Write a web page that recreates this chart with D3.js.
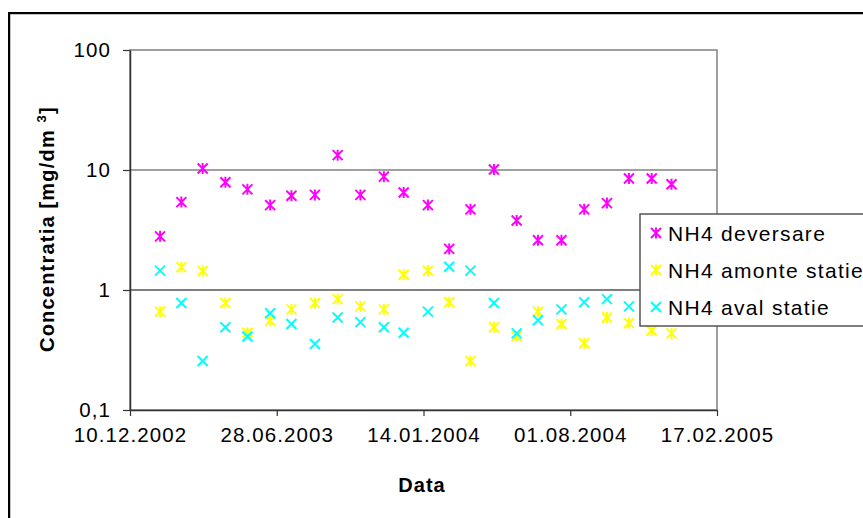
<!DOCTYPE html>
<html>
<head>
<meta charset="utf-8">
<script src="https://cdn.jsdelivr.net/npm/d3@7"></script>
<style>
  html, body { margin: 0; padding: 0; background: #fff; }
  svg { display: block; font-family: "Liberation Sans", Arial, sans-serif; }
</style>
</head>
<body>
<svg id="chart" width="863" height="518"></svg>
<script>
// Monthly NH4 samples
const sampleDates = ["2003-01-20","2003-02-18","2003-03-19","2003-04-19","2003-05-19","2003-06-19",
  "2003-07-18","2003-08-19","2003-09-19","2003-10-20","2003-11-21","2003-12-18",
  "2004-01-20","2004-02-18","2004-03-18","2004-04-19","2004-05-20","2004-06-18",
  "2004-07-20","2004-08-20","2004-09-20","2004-10-20","2004-11-20","2004-12-17"];
const deversare = [2.8,5.4,10.3,7.9,6.9,5.1,6.1,6.2,13.3,6.2,8.8,6.5,5.1,2.2,4.7,10.1,3.8,2.6,2.6,4.7,5.3,8.5,8.5,7.6];
const amonte    = [0.66,1.55,1.44,0.78,0.44,0.555,0.69,0.78,0.84,0.73,0.69,1.34,1.45,0.79,0.256,0.49,0.41,0.66,0.52,0.36,0.59,0.53,0.46,0.435];
const aval      = [1.45,0.78,0.256,0.49,0.41,0.64,0.52,0.355,0.59,0.54,0.49,0.44,0.66,1.56,1.45,0.78,0.435,0.56,0.69,0.79,0.84,0.73,0.75,0.7];

const seriesNames = ["NH4 deversare", "NH4 amonte statie", "NH4 aval statie"];
const xTickDates = ["2002-12-10","2003-06-28","2004-01-14","2004-08-01","2005-02-17"];
const yTickValues = [0.1, 1, 10, 100];
const yTickLabels = ["0,1", "1", "10", "100"];

const parse = d3.timeParse("%Y-%m-%d");
const svg = d3.select("#chart");

const plot = { left: 130, right: 717, top: 50, bottom: 410 };
const x = d3.scaleTime()
  .domain([parse(xTickDates[0]), parse(xTickDates[xTickDates.length - 1])])
  .range([plot.left, plot.right]);
const y = d3.scaleLog().domain([0.1, 100]).range([plot.bottom, plot.top]);

// outer chart frame
svg.append("rect").attr("x", 10).attr("y", 14).attr("width", 900).attr("height", 600)
  .attr("fill", "none").attr("stroke", "#888").attr("stroke-width", 1);
svg.append("rect").attr("x", 9).attr("y", 13).attr("width", 900).attr("height", 600)
  .attr("fill", "none").attr("stroke", "#000").attr("stroke-width", 2);

// plot area frame and gridlines
svg.append("rect").attr("x", plot.left).attr("y", plot.top)
  .attr("width", plot.right - plot.left).attr("height", plot.bottom - plot.top)
  .attr("fill", "none").attr("stroke", "#808080").attr("stroke-width", 1.5);
svg.append("line").attr("x1", plot.left).attr("x2", plot.right)
  .attr("y1", y(10)).attr("y2", y(10)).attr("stroke", "#808080").attr("stroke-width", 1.5);
svg.append("line").attr("x1", plot.left).attr("x2", plot.right)
  .attr("y1", y(1)).attr("y2", y(1)).attr("stroke", "#000").attr("stroke-width", 1.2);

// axes
const fmtDate = d3.timeFormat("%d.%m.%Y");
const xAxis = d3.axisBottom(x)
  .tickValues(xTickDates.map(parse))
  .tickFormat(fmtDate)
  .tickSizeInner(6).tickSizeOuter(0).tickPadding(11);
const gx = svg.append("g").attr("transform", `translate(0,${plot.bottom})`).call(xAxis);

const yAxis = d3.axisLeft(y)
  .tickValues(yTickValues)
  .tickFormat((d, i) => yTickLabels[i])
  .tickSizeInner(7).tickSizeOuter(0).tickPadding(12);
const gy = svg.append("g").attr("transform", `translate(${plot.left},0)`).call(yAxis);

[gx, gy].forEach(g => {
  g.select(".domain").attr("stroke", "#333").attr("stroke-width", 1.5);
  g.selectAll(".tick line").attr("stroke", "#333").attr("stroke-width", 1.2);
  g.selectAll(".tick text").attr("fill", "#000").style("font-size", "20.5px")
    .style("font-family", "'Liberation Sans', Arial, sans-serif").style("letter-spacing", "1.1px");
});
gx.selectAll(".tick text").attr("dy", "0.71em");

// axis titles
svg.append("text").attr("x", 422).attr("y", 492).attr("text-anchor", "middle")
  .style("font-size", "20px").style("font-weight", "bold").style("letter-spacing", "1px").text("Data");
const yt = svg.append("text").attr("transform", "translate(54,229) rotate(-90)")
  .attr("text-anchor", "middle").style("font-size", "20px").style("font-weight", "bold")
  .style("letter-spacing", "1.2px");
yt.append("tspan").text("Concentratia [mg/dm ");
yt.append("tspan").attr("dy", -8).style("font-size", "13px").text("3");
yt.append("tspan").attr("dy", 8).text("]");

// marker shapes
function asterisk(g, r) {
  g.append("path").attr("d", `M${-r},${-r}L${r},${r}M${-r},${r}L${r},${-r}M0,${-r * 1.1}L0,${r * 1.1}`);
}
function cross(g, r) {
  g.append("path").attr("d", `M${-r},${-r}L${r},${r}M${-r},${r}L${r},${-r}`);
}

const series = [
  { name: seriesNames[0], values: deversare, color: "#FF00FF", shape: asterisk },
  { name: seriesNames[1], values: amonte, color: "#FFFF00", shape: asterisk },
  { name: seriesNames[2], values: aval, color: "#00FFFF", shape: cross }
];

series.forEach(s => {
  const g = svg.append("g").attr("fill", "none").attr("stroke", s.color).attr("stroke-width", 2);
  s.values.forEach((v, i) => {
    const m = g.append("g")
      .attr("transform", `translate(${x(parse(sampleDates[i]))},${y(v)})`);
    s.shape(m, 5);
  });
});

// legend
const legend = svg.append("g").attr("transform", "translate(640,214)");
legend.append("rect").attr("x", 0).attr("y", 0).attr("width", 260).attr("height", 112)
  .attr("fill", "#fff").attr("stroke", "#555").attr("stroke-width", 1.5);
series.forEach((s, i) => {
  const row = legend.append("g").attr("transform", `translate(0,${19 + i * 37})`);
  const m = row.append("g").attr("transform", "translate(16,0)")
    .attr("fill", "none").attr("stroke", s.color).attr("stroke-width", 2);
  s.shape(m, 5);
  row.append("text").attr("x", 28).attr("y", 0).attr("dy", "0.36em")
    .style("font-size", "21px").style("letter-spacing", "1.3px").text(s.name);
});
</script>
</body>
</html>
